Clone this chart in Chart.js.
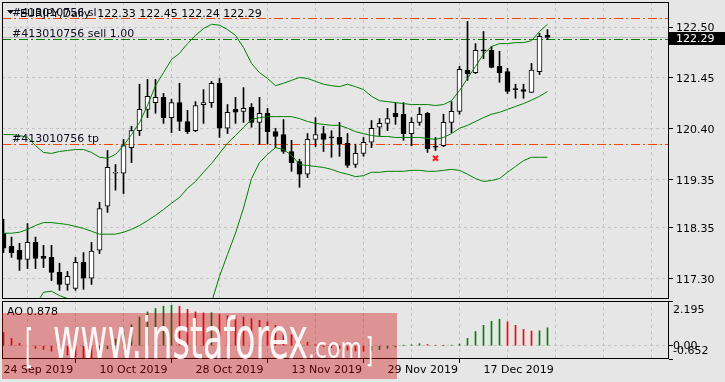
<!DOCTYPE html>
<html>
<head>
<meta charset="utf-8">
<script src="https://cdn.jsdelivr.net/npm/chart.js@4.4.1/dist/chart.umd.min.js"></script>
<style>
  html, body { margin: 0; padding: 0; background: #e6e6e6; }
  #wrap { position: relative; width: 725px; height: 382px; overflow: hidden; }
  #priceChart { position: absolute; left: 0; top: 0; }
  #aoChart { position: absolute; left: 0; top: 300px; }
</style>
</head>
<body>
<div id="wrap">
  <canvas id="priceChart" width="725" height="300"></canvas>
  <canvas id="aoChart" width="725" height="82"></canvas>
</div>
<script>
// EURJPY daily bars
const dates = [
  '24 Sep 2019','25 Sep 2019','26 Sep 2019','27 Sep 2019','30 Sep 2019',
  '1 Oct 2019','2 Oct 2019','3 Oct 2019','4 Oct 2019','7 Oct 2019','8 Oct 2019','9 Oct 2019','10 Oct 2019',
  '11 Oct 2019','14 Oct 2019','15 Oct 2019','16 Oct 2019','17 Oct 2019','18 Oct 2019','21 Oct 2019','22 Oct 2019','23 Oct 2019','24 Oct 2019','25 Oct 2019','28 Oct 2019',
  '29 Oct 2019','30 Oct 2019','31 Oct 2019','1 Nov 2019','4 Nov 2019','5 Nov 2019','6 Nov 2019','7 Nov 2019','8 Nov 2019','11 Nov 2019','12 Nov 2019','13 Nov 2019',
  '14 Nov 2019','15 Nov 2019','18 Nov 2019','19 Nov 2019','20 Nov 2019','21 Nov 2019','22 Nov 2019','25 Nov 2019','26 Nov 2019','27 Nov 2019','28 Nov 2019','29 Nov 2019',
  '2 Dec 2019','3 Dec 2019','4 Dec 2019','5 Dec 2019','6 Dec 2019','9 Dec 2019','10 Dec 2019','11 Dec 2019','12 Dec 2019','13 Dec 2019','16 Dec 2019','17 Dec 2019',
  '18 Dec 2019','19 Dec 2019','20 Dec 2019','23 Dec 2019','24 Dec 2019','26 Dec 2019','27 Dec 2019','30 Dec 2019'
];

const openP = [118.24,117.97,117.89,117.70,118.05,117.76,117.74,117.43,117.18,117.10,117.64,117.31,117.89,118.80,119.48,119.48,120.01,120.36,120.80,120.94,
  121.05,120.63,120.94,120.55,120.36,120.90,120.94,121.34,120.41,120.80,120.76,120.84,120.53,120.72,120.34,120.28,119.93,119.72,119.46,120.18,
  120.30,120.22,120.22,120.10,119.66,119.89,120.12,120.43,120.51,120.72,120.70,120.30,120.53,120.72,120.03,120.05,120.53,120.76,121.61,121.56,
  122.02,122.02,121.69,121.58,121.23,121.21,121.15,121.58,122.33];
const highP = [118.53,118.16,118.03,118.44,118.16,117.99,117.99,117.62,117.45,117.74,117.84,118.05,118.88,119.95,119.66,120.18,120.45,121.32,121.42,121.42,
  121.13,121.01,121.34,120.78,120.96,121.21,121.38,121.44,120.90,121.05,121.25,120.92,121.05,120.82,120.41,120.59,120.16,119.77,120.30,120.63,
  120.45,120.36,120.53,120.30,120.08,120.22,120.57,120.61,120.82,120.94,120.94,120.63,120.84,120.74,120.22,120.70,120.96,121.69,122.62,122.16,
  122.41,122.10,122.00,121.65,121.32,121.32,121.75,122.37,122.45];
const lowP = [117.84,117.74,117.47,117.51,117.51,117.53,117.26,117.06,117.06,117.06,117.08,117.18,117.82,118.67,119.13,119.06,119.70,120.26,120.63,120.72,
  120.51,120.32,120.36,120.30,120.34,120.51,120.84,120.22,120.30,120.51,120.53,120.43,120.08,120.08,120.01,119.89,119.52,119.19,119.39,120.03,
  119.93,119.81,119.83,119.60,119.60,119.83,120.01,120.26,120.36,120.49,120.16,120.05,120.47,119.91,119.95,120.03,120.32,120.70,121.40,121.54,
  121.85,121.66,121.36,121.13,121.03,121.03,121.15,121.52,122.24];
const closeP = [117.93,117.84,117.70,118.05,117.72,117.72,117.43,117.18,117.35,117.64,117.31,117.87,118.75,119.60,119.50,120.05,120.36,120.80,121.07,121.05,
  120.63,120.94,120.55,120.34,120.88,120.94,121.34,120.41,120.74,120.74,120.82,120.53,120.72,120.34,120.24,119.93,119.70,119.46,120.18,120.28,
  120.18,120.21,120.08,119.64,119.89,120.12,120.41,120.51,120.61,120.65,120.30,120.53,120.70,119.99,120.02,120.53,120.76,121.63,121.54,122.02,
  122.01,121.67,121.56,121.17,121.21,121.17,121.61,122.31,122.29];

// Bollinger Bands (20)
const bbUpper = [120.28,120.28,120.26,120.22,120.05,119.91,119.89,119.93,119.95,119.97,119.97,119.91,119.81,119.79,119.87,120.05,120.28,120.53,120.88,121.29,
  121.56,121.83,121.96,122.16,122.33,122.47,122.56,122.54,122.45,122.33,122.08,121.75,121.56,121.44,121.29,121.34,121.40,121.46,121.44,121.38,
  121.32,121.29,121.27,121.32,121.27,121.21,121.07,120.98,120.96,120.94,120.92,120.90,120.90,120.90,120.88,120.90,120.98,121.19,121.44,121.69,
  121.94,122.10,122.16,122.16,122.18,122.18,122.22,122.41,122.56];
const bbMiddle = [118.24,118.24,118.26,118.32,118.40,118.46,118.46,118.44,118.42,118.38,118.34,118.28,118.22,118.22,118.22,118.26,118.32,118.40,118.50,118.61,
  118.73,118.86,118.98,119.17,119.31,119.50,119.68,119.89,120.10,120.26,120.43,120.59,120.63,120.65,120.65,120.65,120.65,120.61,120.55,120.51,
  120.49,120.47,120.47,120.41,120.34,120.30,120.26,120.24,120.24,120.22,120.22,120.22,120.22,120.20,120.18,120.22,120.30,120.41,120.47,120.55,
  120.63,120.70,120.74,120.80,120.86,120.92,120.99,121.07,121.17];
const bbLower = [116.19,116.19,116.25,116.42,116.75,117.02,117.04,116.95,116.89,116.79,116.71,116.64,116.62,116.64,116.56,116.46,116.36,116.27,116.13,115.92,
  115.90,115.88,116.00,116.17,116.29,116.52,116.81,117.35,117.80,118.24,118.76,119.37,119.70,119.87,120.01,119.97,119.85,119.66,119.64,119.62,
  119.60,119.56,119.50,119.46,119.41,119.43,119.50,119.50,119.52,119.52,119.52,119.54,119.54,119.52,119.52,119.54,119.56,119.54,119.46,119.37,
  119.31,119.33,119.37,119.50,119.62,119.74,119.81,119.81,119.81];

// Awesome Oscillator
const aoValues = [0.65,0.36,0.11,-0.05,-0.13,-0.18,-0.26,-0.37,-0.46,-0.55,-0.62,-0.65,-0.52,-0.15,0.33,0.66,1.03,1.41,1.66,1.83,
  1.94,1.99,1.94,1.79,1.66,1.61,1.62,1.53,1.47,1.45,1.41,1.33,1.25,1.17,1.00,0.80,0.53,0.33,0.17,0.05,
  -0.05,-0.10,-0.15,-0.22,-0.26,-0.27,-0.23,-0.19,-0.13,-0.06,0.01,0.05,0.10,0.06,0.02,0.01,0.03,0.08,0.36,0.70,
  1.00,1.20,1.30,1.17,1.00,0.80,0.72,0.73,0.878];

const priceTicks = [117.30, 118.35, 119.35, 120.40, 121.45, 122.50];
const aoTicks = [2.195, 0, -0.652];
const gridBars = [0, 6, 12, 18, 24, 30, 36, 42, 48, 54, 60, 66, 72, 78];

// trade levels: stop loss, entry, take profit
const orderLevels = [122.68, 122.25, 120.08];
const orderLabels = ['#413010756 sl', '#413010756 sell 1.00', '#413010756 tp'];
const orderColors = ['#ff4500', '#008000', '#ff4500'];
const bidPrice = 122.29;
const markBar = [54];
const markPrice = [119.79];

const symbolName = 'EURJPY,Daily';
const gridColor = '#c4c4c4';
const FONT = '"DejaVu Sans", sans-serif';
const xMin = -0.1875, xMax = 83.1875;

Chart.defaults.font.family = FONT;
Chart.defaults.font.size = 11;
Chart.defaults.color = '#000';

const last = closeP.length - 1;

// no edge padding for labels: the panels must fill the canvas exactly
function noPad(s) {
  s.paddingTop = 0; s.paddingBottom = 0; s.paddingLeft = 0; s.paddingRight = 0;
}

function drawFrame(ctx, a) {
  ctx.save();
  ctx.strokeStyle = '#000';
  ctx.lineWidth = 1;
  ctx.setLineDash([]);
  ctx.strokeRect(a.left + 0.5, a.top + 0.5, a.width - 1, a.height - 1);
  ctx.restore();
}

function fitText(ctx, str, x, base, w, font) {
  ctx.font = font;
  const m = ctx.measureText(str).width;
  ctx.save();
  ctx.translate(x, base);
  ctx.scale(w / m, 1);
  ctx.fillText(str, 0, 0);
  ctx.restore();
}

// --- price panel overlays ---
const priceOverlay = {
  id: 'priceOverlay',
  beforeDatasetsDraw(chart) {
    const { ctx, chartArea: a, scales: { y } } = chart;
    ctx.save();
    ctx.lineWidth = 1;
    const by = Math.round(y.getPixelForValue(bidPrice)) + 0.5;
    ctx.strokeStyle = '#bdbdbd';
    ctx.beginPath(); ctx.moveTo(a.left, by); ctx.lineTo(a.right, by); ctx.stroke();
    ctx.setLineDash([9, 3, 2, 3]);
    orderLevels.forEach((lvl, k) => {
      const py = Math.round(y.getPixelForValue(lvl)) + 0.5;
      ctx.strokeStyle = orderColors[k];
      ctx.beginPath(); ctx.moveTo(a.left, py); ctx.lineTo(a.right, py); ctx.stroke();
    });
    ctx.restore();
  },
  afterDraw(chart) {
    const { ctx, chartArea: a, scales: { y } } = chart;
    ctx.save();
    ctx.font = '11px ' + FONT;
    ctx.fillStyle = '#000';

    // price scale labels
    ctx.textBaseline = 'middle';
    priceTicks.forEach(v => ctx.fillText(v.toFixed(2), a.right + 7, Math.round(y.getPixelForValue(v)) + 1));

    // header
    ctx.textBaseline = 'alphabetic';
    ctx.beginPath();
    ctx.moveTo(7, 10); ctx.lineTo(14, 10); ctx.lineTo(10.5, 14); ctx.closePath();
    ctx.fill();
    const ohlc = [openP[last], highP[last], lowP[last], closeP[last]].map(v => v.toFixed(2)).join(' ');
    ctx.fillText(symbolName + '  ' + ohlc, 20, 17);

    // order labels
    orderLevels.forEach((lvl, k) => {
      const py = Math.round(y.getPixelForValue(lvl));
      ctx.fillStyle = '#0a0a1e';
      ctx.fillText(orderLabels[k], 12, py - 2);
    });

    // current price box
    const bp = Math.round(y.getPixelForValue(bidPrice));
    ctx.fillStyle = '#000';
    ctx.fillRect(a.right, bp - 5, 725 - a.right, 13);
    ctx.fillStyle = '#fff';
    ctx.textBaseline = 'middle';
    ctx.fillText(bidPrice.toFixed(2), a.right + 7, bp + 2);
    ctx.restore();

    drawFrame(ctx, a);
  }
};

const xIdx = dates.map((d, i) => i);

new Chart(document.getElementById('priceChart'), {
  type: 'bar',
  data: {
    datasets: [
      { type: 'line', data: xIdx.map(i => ({ x: i, y: bbUpper[i] })), borderColor: '#008000', borderWidth: 1, pointRadius: 0, tension: 0 },
      { type: 'line', data: xIdx.map(i => ({ x: i, y: bbMiddle[i] })), borderColor: '#008000', borderWidth: 1, pointRadius: 0, tension: 0 },
      { type: 'line', data: xIdx.map(i => ({ x: i, y: bbLower[i] })), borderColor: '#008000', borderWidth: 1, pointRadius: 0, tension: 0 },
      { type: 'line', showLine: false, data: markBar.map((b, k) => ({ x: b, y: markPrice[k] })),
        pointStyle: 'crossRot', pointRadius: 3.5, borderColor: '#ff1a1a', borderWidth: 2 },
      { type: 'bar', data: xIdx.map(i => ({ x: i, y: [openP[i], closeP[i]] })),
        backgroundColor: xIdx.map(i => closeP[i] >= openP[i] ? '#ffffff' : '#000000'),
        borderColor: '#000', borderWidth: 1, borderSkipped: false, barThickness: 5, minBarLength: 1, grouped: false },
      { type: 'bar', data: xIdx.map(i => ({ x: i, y: [lowP[i], highP[i]] })),
        backgroundColor: '#000', borderWidth: 0, barThickness: 1, grouped: false }
    ]
  },
  options: {
    responsive: false,
    animation: false,
    devicePixelRatio: 1,
    layout: { autoPadding: false, padding: { top: 2, left: 2, bottom: 1, right: 0 } },
    plugins: { legend: { display: false }, tooltip: { enabled: false } },
    scales: {
      x: {
        type: 'linear', min: xMin, max: xMax, offset: false,
        afterBuildTicks: s => { s.ticks = gridBars.map(v => ({ value: v })); },
        afterFit: s => { s.height = 0; noPad(s); },
        ticks: { display: false },
        grid: { color: gridColor, drawTicks: false },
        border: { display: false, dash: [3, 3] }
      },
      y: {
        type: 'linear', position: 'right', min: 116.88, max: 123.02,
        afterBuildTicks: s => { s.ticks = priceTicks.map(v => ({ value: v })); },
        afterFit: s => { s.width = 56; noPad(s); },
        ticks: { display: false },
        grid: { color: gridColor, tickColor: '#000', tickLength: 4 },
        border: { display: false, dash: [3, 3] }
      }
    }
  },
  plugins: [priceOverlay]
});

// --- AO panel ---
const aoColors = aoValues.map((v, i) => (i > 0 && v > aoValues[i - 1]) ? '#008000' : '#ff0000');

const aoOverlay = {
  id: 'aoOverlay',
  afterDraw(chart) {
    const { ctx, chartArea: a, scales: { y } } = chart;
    drawFrame(ctx, a);
    ctx.save();
    ctx.font = '11px ' + FONT;
    ctx.fillStyle = '#000';
    ctx.textBaseline = 'alphabetic';
    ctx.fillText('AO ' + aoValues[last].toFixed(3), 7, 15);

    // right scale labels, kept inside the panel like the terminal does
    ctx.textBaseline = 'middle';
    ctx.fillText(aoTicks[0].toFixed(3), 673, Math.max(y.getPixelForValue(aoTicks[0]), a.top + 9));
    ctx.fillText(aoTicks[1].toFixed(2), 673, y.getPixelForValue(aoTicks[1]));
    ctx.fillText(aoTicks[2].toFixed(3), 673, Math.min(y.getPixelForValue(aoTicks[2]), a.bottom - 8));

    // watermark
    ctx.fillStyle = 'rgba(206, 0, 0, 0.36)';
    ctx.fillRect(2, 13, 395, 66);
    ctx.fillStyle = 'rgba(255, 255, 255, 0.93)';
    ctx.textBaseline = 'alphabetic';
    const wf = '"Liberation Sans Narrow", "DejaVu Sans Condensed", sans-serif';
    fitText(ctx, '[', 25, 62, 8, '46px ' + wf);
    fitText(ctx, 'www.instaforex', 53, 58, 255, '57px ' + wf);
    fitText(ctx, '.com', 308, 58, 54, '29px ' + wf);
    fitText(ctx, ']', 366, 62, 7, '34px ' + wf);
    ctx.restore();
  }
};

new Chart(document.getElementById('aoChart'), {
  type: 'bar',
  data: {
    datasets: [{
      data: xIdx.map(i => ({ x: i, y: aoValues[i] })),
      backgroundColor: aoColors, borderWidth: 0, barThickness: 1, grouped: false
    }]
  },
  options: {
    responsive: false,
    animation: false,
    devicePixelRatio: 1,
    layout: { autoPadding: false, padding: { top: 1, left: 2, bottom: 0, right: 0 } },
    plugins: { legend: { display: false }, tooltip: { enabled: false } },
    scales: {
      x: {
        type: 'linear', min: xMin, max: xMax, offset: false,
        afterBuildTicks: s => { s.ticks = gridBars.map(v => ({ value: v })); },
        afterFit: s => { s.height = 23; noPad(s); },
        ticks: {
          align: 'start', autoSkip: false, maxRotation: 0, padding: 1, color: '#000',
          callback: v => (v % 12 === 0 && dates[v]) ? dates[v] : ''
        },
        grid: {
          color: gridColor, tickLength: 4,
          tickColor: c => (c.tick && c.tick.value % 12 === 0 && c.tick.value < dates.length) ? '#000' : 'rgba(0,0,0,0)'
        },
        border: { display: false, dash: [3, 3] }
      },
      y: {
        type: 'linear', position: 'right', min: aoTicks[2], max: aoTicks[0],
        afterBuildTicks: s => { s.ticks = aoTicks.map(v => ({ value: v })); },
        afterFit: s => { s.width = 56; noPad(s); },
        ticks: { display: false },
        grid: {
          color: c => (c.tick && c.tick.value === 0) ? gridColor : 'rgba(0,0,0,0)',
          tickColor: '#000', tickLength: 4
        },
        border: { display: false, dash: [3, 3] }
      }
    }
  },
  plugins: [aoOverlay]
});
</script>
</body>
</html>
